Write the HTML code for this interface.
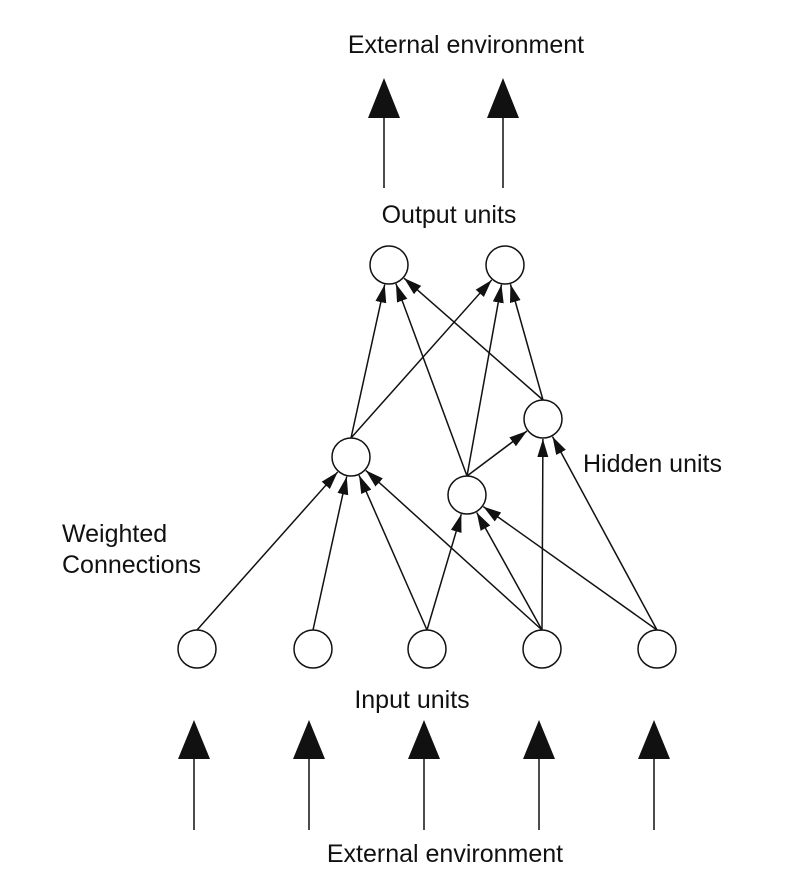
<!DOCTYPE html>
<html><head><meta charset="utf-8"><style>
html,body{margin:0;padding:0;background:#fff;}
svg{display:block;}
text{font-family:"Liberation Sans",Arial,sans-serif;font-size:25px;fill:#111;}
</style></head><body>
<svg id="s" width="788" height="888" viewBox="0 0 788 888" xmlns="http://www.w3.org/2000/svg">
<defs>
<marker id="a" markerUnits="userSpaceOnUse" markerWidth="19" markerHeight="12" refX="18" refY="5.5" orient="auto">
<path d="M0,0 L18,5.5 L0,11 Z" fill="#111"/>
</marker>
</defs>
<text x="466" y="53" text-anchor="middle">External environment</text>
<polygon points="384,78 368,118 400,118" fill="#111"/>
<polygon points="503,78 487,118 519,118" fill="#111"/>
<line x1="384" y1="118" x2="384" y2="188" stroke="#111" stroke-width="1.5"/>
<line x1="503" y1="118" x2="503" y2="188" stroke="#111" stroke-width="1.5"/>
<text x="449" y="223" text-anchor="middle">Output units</text>
<text x="583" y="472">Hidden units</text>
<text x="62" y="542">Weighted</text>
<text x="62" y="573">Connections</text>
<text x="412" y="708" text-anchor="middle">Input units</text>
<text x="445" y="862" text-anchor="middle">External environment</text>
<g id="g"></g>
</svg>
<script>
var N={O1:[389,265],O2:[505,265],H1:[351,457],H2:[543,419],H3:[467,495],
I1:[197,649],I2:[313,649],I3:[427,649],I4:[542,649],I5:[657,649]};
var R=19;
var E=[["H1","O1"],["H1","O2"],["H3","O1"],["H3","O2"],["H3","H2"],["H2","O1"],["H2","O2"],
["I1","H1"],["I2","H1"],["I3","H1"],["I4","H1"],["I3","H3"],["I4","H3"],["I5","H3"],["I4","H2"],["I5","H2"]];
var g=document.getElementById("g"),h="";
E.forEach(function(e){var s=N[e[0]],t=N[e[1]];var sx=s[0],sy=s[1]-R;
var dx=t[0]-sx,dy=t[1]-sy,d=Math.sqrt(dx*dx+dy*dy);
var ex=t[0]-dx/d*(R+1),ey=t[1]-dy/d*(R+1);
h+='<line x1="'+sx+'" y1="'+sy+'" x2="'+ex+'" y2="'+ey+'" stroke="#111" stroke-width="1.5" marker-end="url(#a)"/>';});
for(var k in N){h+='<circle cx="'+N[k][0]+'" cy="'+N[k][1]+'" r="'+R+'" fill="#fff" stroke="#111" stroke-width="1.5"/>';}
[194,309,424,539,654].forEach(function(x){h+='<polygon points="'+x+',720 '+(x-16)+',759 '+(x+16)+',759" fill="#111"/><line x1="'+x+'" y1="759" x2="'+x+'" y2="830" stroke="#111" stroke-width="1.5"/>';});
g.innerHTML=h;
</script>
</body></html>
